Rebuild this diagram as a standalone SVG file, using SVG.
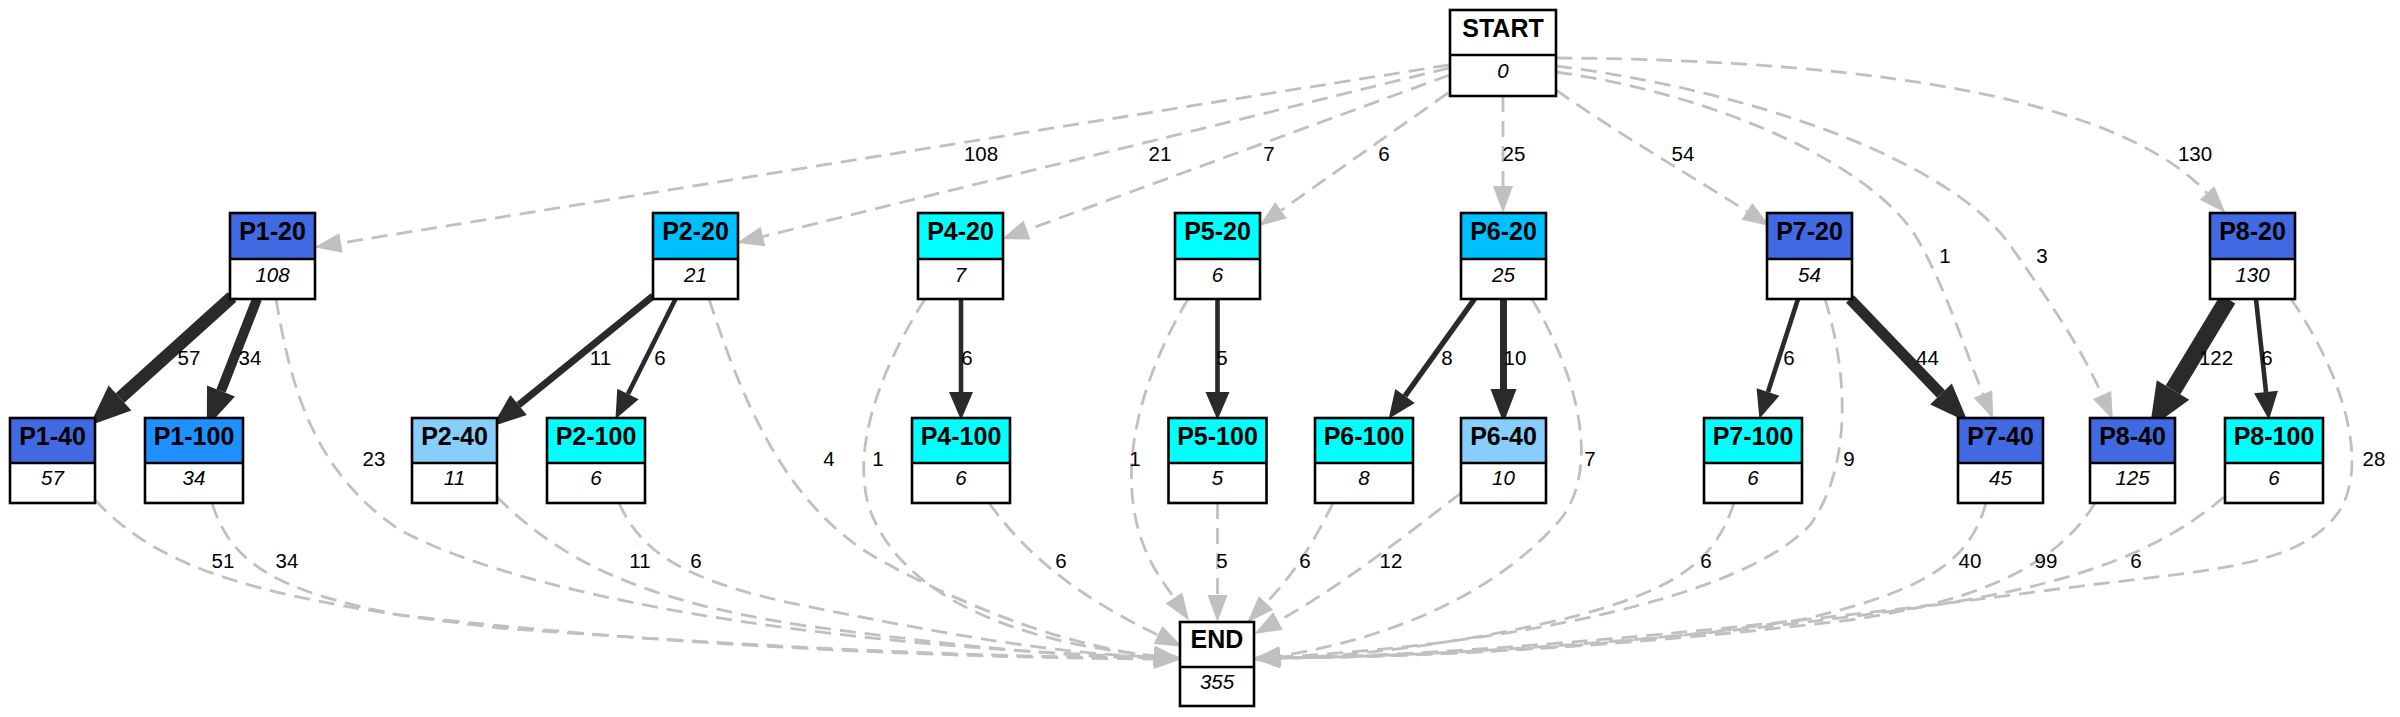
<svg xmlns="http://www.w3.org/2000/svg" width="2400" height="717" viewBox="0 0 2400 717">
<style>
text{font-family:"Liberation Sans",Arial,sans-serif;text-anchor:middle;fill:#000}
.t{font-weight:bold;font-size:25px}
.v{font-style:italic;font-size:20.5px}
.l{font-size:20.5px}
.box{fill:none;stroke:#000;stroke-width:2.6}
.div{stroke:#000;stroke-width:2.6}
.g{fill:none;stroke:#C0C0C0;stroke-width:2.8;stroke-dasharray:16,9;marker-end:url(#ag)}
.s{fill:none;stroke:#2a2a2a}
</style>
<defs>
<marker id="ag" markerUnits="userSpaceOnUse" markerWidth="27" markerHeight="20" viewBox="0 -10 27 20" refX="0" refY="0" orient="auto" overflow="visible"><path d="M0,-10L27,0L0,10z" fill="#C0C0C0"/></marker>
<marker id="a6" markerUnits="userSpaceOnUse" markerWidth="28" markerHeight="24" viewBox="0 -12 28 24" refX="0" refY="0" orient="auto" overflow="visible"><path d="M0,-12L28,0L0,12z" fill="#2a2a2a"/></marker>
<marker id="a10" markerUnits="userSpaceOnUse" markerWidth="34" markerHeight="26" viewBox="0 -13 34 26" refX="0" refY="0" orient="auto" overflow="visible"><path d="M0,-13L34,0L0,13z" fill="#2a2a2a"/></marker>
<marker id="a34" markerUnits="userSpaceOnUse" markerWidth="39" markerHeight="30" viewBox="0 -15 39 30" refX="0" refY="0" orient="auto" overflow="visible"><path d="M0,-15L39,0L0,15z" fill="#2a2a2a"/></marker>
<marker id="a57" markerUnits="userSpaceOnUse" markerWidth="41" markerHeight="34" viewBox="0 -17 41 34" refX="0" refY="0" orient="auto" overflow="visible"><path d="M0,-17L41,0L0,17z" fill="#2a2a2a"/></marker>
<marker id="a122" markerUnits="userSpaceOnUse" markerWidth="45" markerHeight="38" viewBox="0 -19 45 38" refX="0" refY="0" orient="auto" overflow="visible"><path d="M0,-19L45,0L0,19z" fill="#2a2a2a"/></marker>
</defs>
<rect width="2400" height="717" fill="#fff"/>
<g id="connectors">
<path class="g" d="M1449,65 C1100,120 700,185 341,243"/>
<path class="g" d="M1449,68 L763,236.5"/>
<path class="g" d="M1449.5,75 L1027,230"/>
<path class="g" d="M1448,93 L1281,210.4"/>
<path class="g" d="M1503,96 L1503,186"/>
<path class="g" d="M1556,90 C1620,135 1690,175 1747,211.4"/>
<path class="g" d="M1556,72 C1720,95 1870,165 1915,235 C1945,285 1965,350 1983,394"/>
<path class="g" d="M1556,66 C1750,90 1950,160 2010,245 C2045,295 2080,345 2102,395"/>
<path class="g" d="M1556,58 C1900,60 2125,105 2207,193"/>
<text class="l" x="981" y="160.5">108</text>
<text class="l" x="1160" y="160.5">21</text>
<text class="l" x="1269" y="160.5">7</text>
<text class="l" x="1384" y="160.5">6</text>
<text class="l" x="1514" y="160.5">25</text>
<text class="l" x="1683" y="160.5">54</text>
<text class="l" x="1945" y="262.5">1</text>
<text class="l" x="2042" y="262.5">3</text>
<text class="l" x="2195" y="160.5">130</text>

<path class="s" stroke-width="13" marker-end="url(#a57)" d="M232,297 L120,398"/>
<path class="s" stroke-width="10" marker-end="url(#a34)" d="M257,299 L221,391"/>
<path class="s" stroke-width="7" marker-end="url(#a10)" d="M653,296 L518.6,405"/>
<path class="s" stroke-width="4.6" marker-end="url(#a6)" d="M675.5,299 L628,394"/>
<path class="s" stroke-width="4.6" marker-end="url(#a6)" d="M961,299 L961,392"/>
<path class="s" stroke-width="4.6" marker-end="url(#a6)" d="M1217.5,299 L1217.5,392"/>
<path class="s" stroke-width="5.5" marker-end="url(#a6)" d="M1474.5,299 L1405,396"/>
<path class="s" stroke-width="7" marker-end="url(#a10)" d="M1503.5,299 L1503.5,389"/>
<path class="s" stroke-width="4.6" marker-end="url(#a6)" d="M1798,299 L1768,392"/>
<path class="s" stroke-width="11" marker-end="url(#a34)" d="M1850,299 L1941,394"/>
<path class="s" stroke-width="17" marker-end="url(#a122)" d="M2228,299 L2173,390"/>
<path class="s" stroke-width="4.6" marker-end="url(#a6)" d="M2256,299 L2266,392"/>
<text class="l" x="189" y="364.5">57</text>
<text class="l" x="250" y="364.5">34</text>
<text class="l" x="600.5" y="364.5">11</text>
<text class="l" x="660" y="364.5">6</text>
<text class="l" x="967" y="364.5">6</text>
<text class="l" x="1222" y="364.5">5</text>
<text class="l" x="1447" y="364.5">8</text>
<text class="l" x="1515" y="364.5">10</text>
<text class="l" x="1789" y="364.5">6</text>
<text class="l" x="1927.5" y="364.5">44</text>
<text class="l" x="2216" y="364.5">122</text>
<text class="l" x="2267" y="364.5">6</text>

<path class="g" d="M95,500 C160,570 260,600 500,628 C800,650 1000,657 1154,658"/>
<path class="g" d="M212,503 C230,560 270,590 400,615 C700,650 1000,658 1154,659"/>
<path class="g" d="M276,299 C290,380 310,470 400,530 C550,610 900,650 1154,657"/>
<path class="g" d="M497,497 C560,560 640,600 800,625 C950,645 1050,656 1154,658"/>
<path class="g" d="M619,503 C640,550 680,580 800,605 C950,635 1050,653 1154,657"/>
<path class="g" d="M709,299 C745,410 790,510 880,560 C980,615 1080,648 1154,656"/>
<path class="g" d="M925,299 C880,370 850,450 870,510 C900,590 1000,640 1154,656"/>
<path class="g" d="M989,503 C1030,560 1085,600 1158,635"/>
<path class="g" d="M1188,299 C1140,380 1110,480 1150,560 C1158,576 1166,586 1174,598"/>
<path class="g" d="M1217.5,503 L1217.5,595"/>
<path class="g" d="M1333,503 C1310,550 1290,578 1266,603"/>
<path class="g" d="M1461,493 C1400,540 1335,590 1278,621"/>
<path class="g" d="M1532,299 C1580,380 1600,470 1560,520 C1490,600 1380,640 1280,656"/>
<path class="g" d="M1734,503 C1715,560 1680,590 1560,620 C1450,645 1350,657 1280,658"/>
<path class="g" d="M1825,299 C1850,380 1850,470 1810,525 C1740,600 1500,645 1280,657"/>
<path class="g" d="M1986,503 C1970,560 1930,590 1800,620 C1600,650 1400,657 1280,658"/>
<path class="g" d="M2095,503 C2060,560 1990,600 1850,620 C1600,650 1400,657 1280,658"/>
<path class="g" d="M2224,497 C2150,560 2050,590 1900,610 C1650,645 1400,657 1280,658"/>
<path class="g" d="M2291,299 C2340,370 2370,460 2340,510 C2300,570 2200,570 2050,590 C1750,630 1450,656 1280,658"/>
<text class="l" x="223" y="567.5">51</text>
<text class="l" x="287" y="567.5">34</text>
<text class="l" x="374" y="465.5">23</text>
<text class="l" x="640" y="567.5">11</text>
<text class="l" x="696" y="567.5">6</text>
<text class="l" x="829" y="465.5">4</text>
<text class="l" x="878" y="465.5">1</text>
<text class="l" x="1061" y="567.5">6</text>
<text class="l" x="1135" y="465.5">1</text>
<text class="l" x="1222" y="567.5">5</text>
<text class="l" x="1305" y="567.5">6</text>
<text class="l" x="1391" y="567.5">12</text>
<text class="l" x="1590" y="465.5">7</text>
<text class="l" x="1706" y="567.5">6</text>
<text class="l" x="1849" y="465.5">9</text>
<text class="l" x="1970" y="567.5">40</text>
<text class="l" x="2046" y="567.5">99</text>
<text class="l" x="2136" y="567.5">6</text>
<text class="l" x="2374" y="465.5">28</text>
</g>

<g id="START"><rect x="1450" y="10" width="106" height="45" fill="#fff"/><rect x="1450" y="55" width="106" height="41" fill="#fff"/><rect class="box" x="1450" y="10" width="106" height="86"/><line class="div" x1="1450" y1="55" x2="1556" y2="55"/><text class="t" x="1503" y="36.5">START</text><text class="v" x="1503" y="77.5">0</text></g>

<g id="P1-20"><rect x="230" y="213" width="85" height="46" fill="#4169E1"/><rect x="230" y="259" width="85" height="40" fill="#fff"/><rect class="box" x="230" y="213" width="85" height="86"/><line class="div" x1="230" y1="259" x2="315" y2="259"/><text class="t" x="272.5" y="240">P1-20</text><text class="v" x="272.5" y="282">108</text></g>
<g id="P2-20"><rect x="653" y="213" width="85" height="46" fill="#00BFFF"/><rect x="653" y="259" width="85" height="40" fill="#fff"/><rect class="box" x="653" y="213" width="85" height="86"/><line class="div" x1="653" y1="259" x2="738" y2="259"/><text class="t" x="695.5" y="240">P2-20</text><text class="v" x="695.5" y="282">21</text></g>
<g id="P4-20"><rect x="918" y="213" width="85" height="46" fill="#00FFFF"/><rect x="918" y="259" width="85" height="40" fill="#fff"/><rect class="box" x="918" y="213" width="85" height="86"/><line class="div" x1="918" y1="259" x2="1003" y2="259"/><text class="t" x="960.5" y="240">P4-20</text><text class="v" x="960.5" y="282">7</text></g>
<g id="P5-20"><rect x="1175" y="213" width="85" height="46" fill="#00FFFF"/><rect x="1175" y="259" width="85" height="40" fill="#fff"/><rect class="box" x="1175" y="213" width="85" height="86"/><line class="div" x1="1175" y1="259" x2="1260" y2="259"/><text class="t" x="1217.5" y="240">P5-20</text><text class="v" x="1217.5" y="282">6</text></g>
<g id="P6-20"><rect x="1461" y="213" width="85" height="46" fill="#00BFFF"/><rect x="1461" y="259" width="85" height="40" fill="#fff"/><rect class="box" x="1461" y="213" width="85" height="86"/><line class="div" x1="1461" y1="259" x2="1546" y2="259"/><text class="t" x="1503.5" y="240">P6-20</text><text class="v" x="1503.5" y="282">25</text></g>
<g id="P7-20"><rect x="1767" y="213" width="85" height="46" fill="#4169E1"/><rect x="1767" y="259" width="85" height="40" fill="#fff"/><rect class="box" x="1767" y="213" width="85" height="86"/><line class="div" x1="1767" y1="259" x2="1852" y2="259"/><text class="t" x="1809.5" y="240">P7-20</text><text class="v" x="1809.5" y="282">54</text></g>
<g id="P8-20"><rect x="2210" y="213" width="85" height="46" fill="#4169E1"/><rect x="2210" y="259" width="85" height="40" fill="#fff"/><rect class="box" x="2210" y="213" width="85" height="86"/><line class="div" x1="2210" y1="259" x2="2295" y2="259"/><text class="t" x="2252.5" y="240">P8-20</text><text class="v" x="2252.5" y="282">130</text></g>

<g id="P1-40"><rect x="10" y="418" width="85" height="45" fill="#4169E1"/><rect x="10" y="463" width="85" height="40" fill="#fff"/><rect class="box" x="10" y="418" width="85" height="85"/><line class="div" x1="10" y1="463" x2="95" y2="463"/><text class="t" x="52.5" y="445">P1-40</text><text class="v" x="52.5" y="485">57</text></g>
<g id="P1-100"><rect x="145" y="418" width="98" height="45" fill="#1E90FF"/><rect x="145" y="463" width="98" height="40" fill="#fff"/><rect class="box" x="145" y="418" width="98" height="85"/><line class="div" x1="145" y1="463" x2="243" y2="463"/><text class="t" x="194" y="445">P1-100</text><text class="v" x="194" y="485">34</text></g>
<g id="P2-40"><rect x="412" y="418" width="85" height="45" fill="#87CEFA"/><rect x="412" y="463" width="85" height="40" fill="#fff"/><rect class="box" x="412" y="418" width="85" height="85"/><line class="div" x1="412" y1="463" x2="497" y2="463"/><text class="t" x="454.5" y="445">P2-40</text><text class="v" x="454.5" y="485">11</text></g>
<g id="P2-100"><rect x="547" y="418" width="98" height="45" fill="#00FFFF"/><rect x="547" y="463" width="98" height="40" fill="#fff"/><rect class="box" x="547" y="418" width="98" height="85"/><line class="div" x1="547" y1="463" x2="645" y2="463"/><text class="t" x="596" y="445">P2-100</text><text class="v" x="596" y="485">6</text></g>
<g id="P4-100"><rect x="912" y="418" width="98" height="45" fill="#00FFFF"/><rect x="912" y="463" width="98" height="40" fill="#fff"/><rect class="box" x="912" y="418" width="98" height="85"/><line class="div" x1="912" y1="463" x2="1010" y2="463"/><text class="t" x="961" y="445">P4-100</text><text class="v" x="961" y="485">6</text></g>
<g id="P5-100"><rect x="1168.5" y="418" width="98" height="45" fill="#00FFFF"/><rect x="1168.5" y="463" width="98" height="40" fill="#fff"/><rect class="box" x="1168.5" y="418" width="98" height="85"/><line class="div" x1="1168.5" y1="463" x2="1266.5" y2="463"/><text class="t" x="1217.5" y="445">P5-100</text><text class="v" x="1217.5" y="485">5</text></g>
<g id="P6-100"><rect x="1315" y="418" width="98" height="45" fill="#00FFFF"/><rect x="1315" y="463" width="98" height="40" fill="#fff"/><rect class="box" x="1315" y="418" width="98" height="85"/><line class="div" x1="1315" y1="463" x2="1413" y2="463"/><text class="t" x="1364" y="445">P6-100</text><text class="v" x="1364" y="485">8</text></g>
<g id="P6-40"><rect x="1461" y="418" width="85" height="45" fill="#87CEFA"/><rect x="1461" y="463" width="85" height="40" fill="#fff"/><rect class="box" x="1461" y="418" width="85" height="85"/><line class="div" x1="1461" y1="463" x2="1546" y2="463"/><text class="t" x="1503.5" y="445">P6-40</text><text class="v" x="1503.5" y="485">10</text></g>
<g id="P7-100"><rect x="1704" y="418" width="98" height="45" fill="#00FFFF"/><rect x="1704" y="463" width="98" height="40" fill="#fff"/><rect class="box" x="1704" y="418" width="98" height="85"/><line class="div" x1="1704" y1="463" x2="1802" y2="463"/><text class="t" x="1753" y="445">P7-100</text><text class="v" x="1753" y="485">6</text></g>
<g id="P7-40"><rect x="1958" y="418" width="85" height="45" fill="#4169E1"/><rect x="1958" y="463" width="85" height="40" fill="#fff"/><rect class="box" x="1958" y="418" width="85" height="85"/><line class="div" x1="1958" y1="463" x2="2043" y2="463"/><text class="t" x="2000.5" y="445">P7-40</text><text class="v" x="2000.5" y="485">45</text></g>
<g id="P8-40"><rect x="2090" y="418" width="85" height="45" fill="#4169E1"/><rect x="2090" y="463" width="85" height="40" fill="#fff"/><rect class="box" x="2090" y="418" width="85" height="85"/><line class="div" x1="2090" y1="463" x2="2175" y2="463"/><text class="t" x="2132.5" y="445">P8-40</text><text class="v" x="2132.5" y="485">125</text></g>
<g id="P8-100"><rect x="2225" y="418" width="98" height="45" fill="#00FFFF"/><rect x="2225" y="463" width="98" height="40" fill="#fff"/><rect class="box" x="2225" y="418" width="98" height="85"/><line class="div" x1="2225" y1="463" x2="2323" y2="463"/><text class="t" x="2274" y="445">P8-100</text><text class="v" x="2274" y="485">6</text></g>

<g id="END"><rect x="1180" y="622" width="74" height="45" fill="#fff"/><rect x="1180" y="667" width="74" height="39" fill="#fff"/><rect class="box" x="1180" y="622" width="74" height="84"/><line class="div" x1="1180" y1="667" x2="1254" y2="667"/><text class="t" x="1217" y="648">END</text><text class="v" x="1217" y="688.5">355</text></g>
</svg>
